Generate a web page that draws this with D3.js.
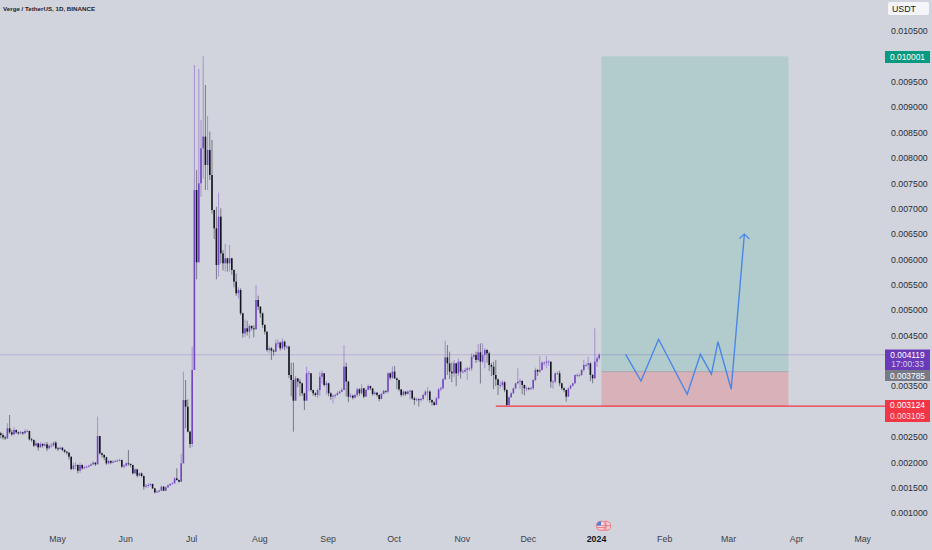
<!DOCTYPE html>
<html><head><meta charset="utf-8">
<script src="https://cdn.jsdelivr.net/npm/d3@7"></script>
<style>
html,body{margin:0;padding:0;background:#d1d4dc;overflow:hidden}
svg{display:block}
text{font-family:"Liberation Sans",Arial,sans-serif}
</style></head><body>
<svg id="c" width="932" height="550"></svg>
<script>
const title="Verge / TetherUS, 1D, BINANCE";
const firstDay="2023-04-05";
// prices in millionths of USDT, one entry per daily candle
const firstOpen=2570;
const closes=[2537,2491,2471,2669,2590,2550,2636,2590,2570,2590,2570,2616,2616,2452,2439,2327,2373,2294,2360,2327,2353,2274,2327,2327,2386,2274,2261,2287,2241,2209,2189,2110,1867,1933,1946,1834,1946,1880,1900,1913,1933,1959,1992,1959,2517,2176,2143,2097,1979,2025,1992,2012,2025,2031,2045,1913,1933,1979,1966,1946,1782,1860,1736,1782,1729,1519,1539,1552,1571,1486,1407,1420,1440,1519,1440,1506,1545,1571,1585,1683,1650,1617,1979,3227,3096,2603,2360,3818,7366,5941,7498,8188,8418,7859,8155,7662,6972,6611,5888,6841,6118,5921,6020,5921,6020,5790,5560,5330,5395,4936,4541,4640,4574,4686,4640,4620,5198,5067,4936,4706,4574,4213,4246,4200,4180,4344,4357,4246,4377,4279,4279,3720,3622,3214,3654,3589,3556,3359,3214,3753,3753,3424,3359,3326,3424,3687,3753,3523,3556,3359,3293,3313,3326,3359,3392,3424,3884,3589,3293,3313,3273,3326,3438,3360,3457,3293,3424,3503,3457,3345,3372,3326,3247,3345,3405,3392,3753,3667,3786,3654,3621,3437,3326,3392,3345,3392,3411,3260,3227,3240,3227,3247,3326,3392,3392,3227,3181,3129,3260,3437,3457,3635,4068,3950,3786,3753,3950,3753,3983,3786,3786,3819,3851,3851,4081,4114,4016,4167,3983,4114,4213,4147,3917,3884,3720,3635,3523,3523,3575,3424,3129,3280,3359,3457,3556,3589,3602,3523,3457,3457,3444,3457,3621,3819,3786,3819,3963,3963,3983,3983,3589,3589,3753,3753,3556,3457,3424,3293,3457,3510,3556,3720,3720,3720,3819,3917,3917,3950,3720,3654,3983,4048,4119];
const highs=[2600,2570,2520,2770,2931,2640,2690,2650,2610,2620,2600,2650,2650,2620,2480,2450,2420,2380,2400,2380,2390,2400,2360,2380,2410,2420,2300,2310,2300,2260,2220,2200,2110,1990,2000,1960,1990,1960,1930,1940,1950,1980,2020,2000,2899,2517,2200,2160,2110,2050,2040,2040,2050,2060,2070,2050,1960,2000,2241,1980,1950,1880,1870,1800,1800,1740,1570,1590,1590,1580,1490,1450,1460,1540,1530,1530,1570,1590,1610,1700,1880,1660,2163,3785,3621,3240,2620,4278,9830,7761,9751,8746,10001,9436,8825,8516,8352,6972,7038,7314,7005,6184,6302,6030,6282,6030,5800,5720,5450,5428,4950,4817,4790,4720,4700,4700,5494,5284,5080,4950,4720,4580,4290,4270,4230,4420,4423,4380,4440,4400,4310,4300,3963,3963,3700,3640,3640,3570,3370,3884,3800,3760,3430,3380,3450,3780,3810,3760,3600,3570,3380,3340,3350,3400,3420,3470,4311,3963,3610,3360,3330,3350,3470,3460,3540,3470,3450,3530,3510,3460,3400,3380,3340,3370,3430,3420,3780,3770,3890,3897,3670,3630,3440,3420,3400,3420,3430,3420,3290,3270,3260,3270,3350,3420,3480,3420,3240,3200,3290,3460,3490,3660,4397,4311,4180,3970,4015,3960,4048,3990,3830,3860,3880,3880,4147,4140,4180,4331,4344,4344,4250,4230,4180,3960,3983,4016,3650,3600,3620,3600,3440,3300,3380,3470,3570,3851,3650,3620,3530,3490,3480,3490,3640,3864,3840,4094,3990,3990,4094,4010,3983,3620,3770,3790,3805,3570,3480,3430,3470,3530,3570,3730,3750,3750,3830,4016,3950,4081,3970,3740,4640,4090,4150];
const lows=[2470,2450,2440,2460,2560,2520,2540,2560,2540,2555,2540,2560,2590,2430,2400,2300,2310,2230,2320,2290,2310,2220,2260,2290,2310,2250,2220,2250,2215,2180,2150,2050,1840,1850,1860,1780,1790,1850,1870,1880,1900,1925,1950,1930,1959,2150,2090,2040,1950,1960,1960,1980,2000,2010,2020,1890,1880,1920,1930,1900,1760,1760,1700,1720,1700,1460,1490,1500,1520,1470,1390,1395,1410,1430,1430,1430,1490,1530,1560,1580,1640,1600,1617,1979,2669,2590,2280,2300,3818,5606,5941,7235,7596,7366,7366,7564,6900,6400,5606,5658,5921,5780,5757,5757,5757,5700,5450,5280,5230,4900,4458,4470,4500,4443,4600,4460,4620,5000,4850,4650,4520,4180,4150,4016,4100,4180,4270,4200,4220,4210,4230,3660,3300,2603,3214,3480,3300,3310,3030,3214,3400,3390,3310,3290,3260,3300,3550,3490,3330,3300,3230,3160,3260,3310,3350,3380,3424,3293,3181,3270,3240,3260,3290,3310,3330,3260,3290,3440,3420,3310,3320,3290,3200,3240,3340,3360,3360,3620,3640,3640,3440,3400,3290,3300,3310,3340,3240,3230,3130,3200,3100,3190,3220,3300,3210,3170,3120,3110,3130,3240,3400,3440,3620,3720,3640,3580,3680,3500,3700,3650,3750,3770,3620,3800,3800,4040,3960,3980,3550,3950,3850,3960,3800,3700,3440,3500,3322,3450,3480,3380,3105,3105,3270,3350,3440,3540,3450,3340,3320,3400,3420,3430,3430,3600,3700,3760,3810,3900,3850,3900,3470,3450,3560,3720,3500,3420,3380,3194,3290,3440,3500,3550,3680,3680,3700,3790,3880,3830,3600,3557,3650,3880,4020];

const priceTicks=[0.0105,0.0095,0.009,0.0085,0.008,0.0075,0.007,0.0065,0.006,0.0055,0.005,0.0045,0.0035,0.0025,0.002,0.0015,0.001];
const monthTicks=["2023-05-01","2023-06-01","2023-07-01","2023-08-01","2023-09-01","2023-10-01","2023-11-01","2023-12-01","2024-01-01","2024-02-01","2024-03-01","2024-04-01","2024-05-01"];
const monthLabels=["May","Jun","Jul","Aug","Sep","Oct","Nov","Dec","2024","Feb","Mar","Apr","May"];

const positionStart="2024-01-03", positionEnd="2024-03-28";
const targetPrice=0.010001, entryPrice=0.003785, stopPrice=0.003105;
const supportPrice=0.003124, supportStart="2023-11-16", lastPrice=0.004119, countdown="17:00:33";
const pathDates=["2024-01-14","2024-01-21","2024-01-29","2024-02-11","2024-02-17","2024-02-22","2024-02-25","2024-03-02","2024-03-08"];
const pathPrices=[0.004128,0.003602,0.004424,0.003339,0.004128,0.003734,0.004376,0.003438,0.006499];

const W=932,H=550,plotR=885;
const svg=d3.select("#c");
const D=s=>new Date(s+"T00:00:00Z");
const x=d3.scaleUtc().domain([D("2024-01-01"),D("2024-05-01")]).range([597,863.2]);
const y=d3.scaleLinear().domain([0.001,0.0105]).range([513,31]);
const day0=D(firstDay);
const candles=closes.map((c,i)=>({
  date:d3.utcDay.offset(day0,i),
  o:(i?closes[i-1]:firstOpen)*1e-6,c:c*1e-6,h:highs[i]*1e-6,l:lows[i]*1e-6}));

const UP="#7346c4",DOWN="#131722";

// position tool
svg.append("rect").attr("x",x(D(positionStart))).attr("width",x(D(positionEnd))-x(D(positionStart)))
  .attr("y",y(targetPrice)).attr("height",y(entryPrice)-y(targetPrice)).attr("fill","#b2cccd");
svg.append("rect").attr("x",x(D(positionStart))).attr("width",x(D(positionEnd))-x(D(positionStart)))
  .attr("y",y(entryPrice)).attr("height",y(stopPrice)-y(entryPrice)).attr("fill","#d8b1b9");
svg.append("line").attr("x1",x(D(positionStart))).attr("x2",x(D(positionEnd)))
  .attr("y1",y(entryPrice)).attr("y2",y(entryPrice)).attr("stroke","#a9a5ae").attr("stroke-width",1);

// last price line
svg.append("line").attr("x1",0).attr("x2",plotR).attr("y1",y(lastPrice)).attr("y2",y(lastPrice))
  .attr("stroke","#6a3ab8").attr("stroke-opacity",.22).attr("stroke-width",1);

// candles
const g=svg.append("g");
g.selectAll("line.w").data(candles).join("line").attr("class","w")
  .attr("x1",d=>x(d.date)).attr("x2",d=>x(d.date))
  .attr("y1",d=>y(Math.max(d.h,d.o,d.c))).attr("y2",d=>y(Math.min(d.l,d.o,d.c)))
  .attr("stroke",d=>d.c>=d.o?UP:DOWN).attr("stroke-width",.8).attr("stroke-opacity",.6);
g.selectAll("rect.b").data(candles).join("rect").attr("class","b")
  .attr("x",d=>x(d.date)-.8).attr("width",1.6)
  .attr("y",d=>y(Math.max(d.o,d.c))).attr("height",d=>Math.max(.8,Math.abs(y(d.o)-y(d.c))))
  .attr("fill",d=>d.c>=d.o?UP:DOWN);

// support line
svg.append("line").attr("x1",x(D(supportStart))).attr("x2",plotR).attr("y1",y(supportPrice)+.8).attr("y2",y(supportPrice)+.8)
  .attr("stroke","#f23645").attr("stroke-width",1.2);

// projected path with arrow
const pts=pathDates.map((d,i)=>[x(D(d)),y(pathPrices[i])]);
svg.append("path").attr("d",d3.line()(pts)).attr("fill","none").attr("stroke","#4a86e8").attr("stroke-width",1.4).attr("stroke-linejoin","miter");
const tip=pts[pts.length-1];
svg.append("path").attr("d",d3.line()([[tip[0]-5,tip[1]+4.5],tip,[tip[0]+5,tip[1]+5]])).attr("fill","none").attr("stroke","#4a86e8").attr("stroke-width",1.1);

// axes
const ay=d3.axisRight(y).tickValues(priceTicks).tickFormat(d3.format(".6f")).tickSize(0).tickPadding(0);
const gy=svg.append("g").attr("transform","translate(891,0)").call(ay);
gy.select(".domain").remove();
gy.selectAll("text").attr("font-size",8.8).attr("fill","#2a2e39").attr("font-family",'"Liberation Sans",Arial,sans-serif');

const ax=d3.axisBottom(x).tickValues(monthTicks.map(D)).tickFormat((d,i)=>monthLabels[i]).tickSize(0).tickPadding(0);
const gx=svg.append("g").attr("transform","translate(-1,536)").call(ax);
gx.select(".domain").remove();
gx.selectAll("text").attr("font-size",8.8).attr("font-family",'"Liberation Sans",Arial,sans-serif')
  .attr("font-weight",(d,i)=>monthLabels[i]==="2024"?"bold":"normal")
  .attr("fill",(d,i)=>monthLabels[i]==="2024"?"#131722":"#3c3f49");

// title
svg.append("text").attr("x",3).attr("y",10.5).attr("font-size",6.2).attr("font-weight","bold").attr("fill","#1e222d").text(title);

// price tags
function tag(y0,y1,fill,rows){
  svg.append("rect").attr("x",885).attr("y",y0).attr("width",45).attr("height",y1-y0).attr("fill",fill);
  rows.forEach(r=>svg.append("text").attr("x",907.5).attr("y",r[1]).attr("text-anchor","middle")
    .attr("font-size",8.4).attr("fill",r[2]||"#fff").text(r[0]));
}
const f6=d3.format(".6f");
tag(51,63,"#089981",[[f6(targetPrice),60]]);
tag(349.5,370,"#6a3ab8",[[f6(lastPrice),357.6],[countdown,367.4,"#d9ccf2"]]);
tag(370,381,"#787b86",[[f6(entryPrice),378.6]]);
tag(400,422,"#f23645",[[f6(supportPrice),408.4],[f6(stopPrice),419.4,"#ffdfe2"]]);

// currency button
svg.append("rect").attr("x",888).attr("y",2).attr("width",41).attr("height",13).attr("rx",2).attr("fill","#f4f5f8");
svg.append("text").attr("x",892).attr("y",12).attr("font-size",8.8).attr("fill","#131722").text("USDT");

// flag marker
const fg=svg.append("g");
fg.append("circle").attr("cx",606).attr("cy",525.7).attr("r",4.6).attr("fill","#f3d5da").attr("stroke","#ef8a94").attr("stroke-width",1.2);
fg.append("circle").attr("cx",601).attr("cy",525.7).attr("r",4.6).attr("fill","#f3d5da").attr("stroke","#ef8a94").attr("stroke-width",1.2);
fg.append("path").attr("d","M596.6 525.7A4.4 4.4 0 0 1 601 521.3V525.7Z").attr("fill","#4f7fd6");
fg.append("line").attr("x1",596.8).attr("x2",605).attr("y1",527.6).attr("y2",527.6).attr("stroke","#e9707c").attr("stroke-width",.9);
fg.append("line").attr("x1",606).attr("x2",606).attr("y1",521.5).attr("y2",530).attr("stroke","#e9707c").attr("stroke-width",.9);
fg.append("line").attr("x1",601.5).attr("x2",610.5).attr("y1",525.7).attr("y2",525.7).attr("stroke","#e9707c").attr("stroke-width",.9);
</script>
</body></html>
